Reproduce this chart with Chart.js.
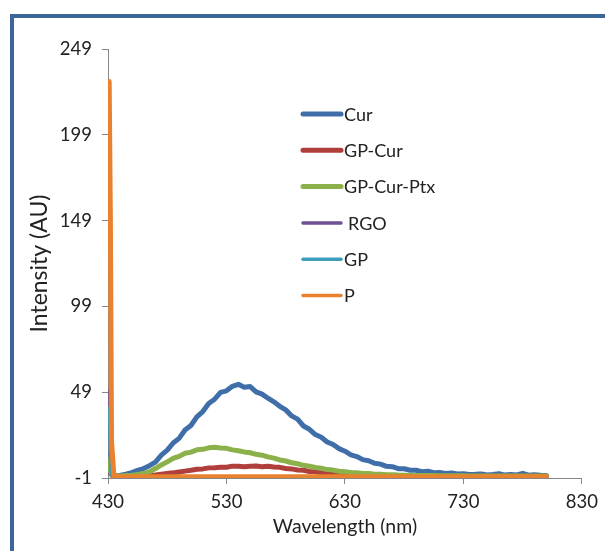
<!DOCTYPE html>
<html lang="en">
<head>
    <meta charset="UTF-8">
    <title>Intensity vs Wavelength</title>
    <script src="https://cdn.jsdelivr.net/npm/chart.js"></script>
    <style>
        body {
            margin: 0;
            background: #fff;
            font-family: Lato, sans-serif;
        }
        #wrap {
            position: relative;
            width: 605px;
            height: 551px;
            overflow: hidden;
        }
        #frame {
            position: absolute;
            left: 10px;
            top: 14px;
            width: 700px;
            height: 700px;
            border-left: 4px solid #3c6598;
            border-top: 4px solid #3c6598;
        }
        canvas {
            position: absolute;
            left: 0;
            top: 0;
        }
    </style>
</head>
<body>
<div id="wrap">
    <div id="frame"></div>
    <canvas id="myChart" width="605" height="551"></canvas>
</div>

<script>
    // wavelengths (nm) for the three emission curves
    const wl = [431, 432, 434, 436, 440, 445, 450, 455, 460, 465, 470, 475, 480, 485, 490, 495,
        500, 505, 510, 515, 520, 525, 530, 535, 540, 545, 550, 555, 560, 565, 570, 575,
        580, 585, 590, 595, 600, 605, 610, 615, 620, 625, 630, 635, 640, 645, 650, 655,
        660, 665, 670, 675, 680, 685, 690, 695, 700, 705, 710, 715, 720, 725, 730, 735,
        740, 745, 750, 755, 760, 765, 770, 775, 780, 785, 790, 795, 800];

    const cur = [12, 3, 0.3, 0.2, 0.5, 1.2, 2.1, 3.4, 4.5, 6.2, 8.3, 12.3, 15.2, 19.4, 22.1, 27.0,
        29.6, 34.6, 37.7, 42.4, 44.9, 48.9, 49.8, 52.4, 53.6, 51.9, 52.3, 49.2, 47.9, 45.5, 43.4, 40.8,
        38.7, 35.2, 33.3, 29.3, 27.4, 24.3, 22.7, 20.0, 18.5, 16.1, 14.6, 12.5, 11.5, 9.7, 9.1, 7.6,
        7.1, 5.8, 5.6, 4.4, 4.4, 3.5, 3.5, 2.7, 2.9, 2.1, 2.2, 1.6, 1.9, 1.3, 1.5, 1.1,
        1.2, 1.4, 0.8, 1.1, 1.5, 0.7, 1.0, 0.8, 1.7, 0.6, 0.9, 0.6, 0.5];

    const gpCur = [8, 2, 0, -0.2, 0, 0, 0.1, 0.2, 0.3, 0.5, 0.8, 1.2, 1.6, 2.0, 2.5, 3.0,
        3.5, 4.1, 4.3, 4.9, 5.0, 5.3, 5.3, 5.9, 5.8, 5.6, 5.9, 6.0, 5.6, 5.9, 5.4, 5.2,
        4.5, 4.3, 3.7, 3.5, 2.8, 2.6, 2.0, 1.8, 1.3, 1.2, 0.9, 0.7, 0.5, 0.4, 0.3, 0.3,
        0.2, 0.2, 0.2, 0.1, 0.1, 0.1, 0.1, 0.0, 0.0, 0.0, 0.0, 0.0, 0.0, 0.0, 0.0, 0.0,
        0.0, 0.0, 0.0, 0.0, 0.0, 0.0, 0.0, 0.0, 0.0, 0.0, 0.0, 0.0, 0.0];

    const gpCurPtx = [10, 3, 0.3, 0, 0.2, 0.4, 0.6, 1.0, 1.6, 2.6, 4.5, 6.6, 8.4, 10.4, 11.6, 13.4,
        14.1, 15.4, 15.7, 16.6, 16.9, 16.5, 16.3, 15.4, 14.9, 14.2, 13.7, 12.8, 12.3, 11.3, 10.6, 9.5,
        8.9, 7.9, 7.3, 6.4, 5.9, 5.1, 4.7, 3.9, 3.6, 2.9, 2.7, 2.2, 2.1, 1.6, 1.6, 1.2,
        1.2, 0.9, 0.9, 0.7, 0.6, 0.5, 0.5, 0.4, 0.4, 0.4, 0.3, 0.3, 0.3, 0.3, 0.3, 0.2,
        0.2, 0.2, 0.2, 0.2, 0.2, 0.2, 0.2, 0.2, 0.2, 0.2, 0.2, 0.2, 0.2];

    // wavelengths for the flat references
    const wlFlat = [431, 432, 433, 435, 440, 500, 600, 700, 800];
    const rgo = [50, 10, 1, -0.5, -0.5, -0.5, -0.5, -0.5, -0.5];
    const gp = [40, 8, 1, -0.5, -0.5, -0.5, -0.5, -0.5, -0.5];
    const p = [230, 150, 20, 0, -0.3, -0.3, -0.3, -0.3, -0.3];

    const xTicks = [430, 530, 630, 730, 830];
    const yTicks = [-1, 49, 99, 149, 199, 249];

    const names = ['Cur', 'GP-Cur', 'GP-Cur-Ptx', 'RGO', 'GP', 'P'];
    const colors = ['#3f6ea8', '#b03f3b', '#8cb04a', '#6e5094', '#3d9dba', '#e8822f'];
    const widths = [5, 5, 5, 3, 3, 5];
    const seriesX = [wl, wl, wl, wlFlat, wlFlat, wlFlat];
    const seriesY = [cur, gpCur, gpCurPtx, rgo, gp, p];

    const datasets = names.map((name, i) => ({
        label: name,
        data: seriesY[i].map((v, j) => ({ x: seriesX[i][j], y: v })),
        borderColor: colors[i],
        backgroundColor: colors[i],
        borderWidth: widths[i],
        pointRadius: 0,
        tension: 0,
        borderJoinStyle: 'round',
        borderCapStyle: 'round',
        order: names.length - i
    }));

    // legend drawn inside the plot, like the original
    const legendPlugin = {
        id: 'insideLegend',
        afterDraw(chart) {
            const ctx = chart.ctx;
            ctx.save();
            ctx.font = '18px Lato, sans-serif';
            ctx.fillStyle = '#222';
            ctx.textBaseline = 'middle';
            ctx.lineCap = 'round';
            names.forEach((name, i) => {
                const y = 114 + i * 36.3;
                ctx.strokeStyle = colors[i];
                ctx.lineWidth = i < 3 ? 5 : 3.5;
                ctx.beginPath();
                ctx.moveTo(303, y);
                ctx.lineTo(341, y);
                ctx.stroke();
                ctx.fillText(name, i === 3 ? 348 : 344, y + 1);
            });
            ctx.restore();
        }
    };

    const axisGray = '#868686';

    new Chart(document.getElementById('myChart').getContext('2d'), {
        type: 'line',
        data: { datasets: datasets },
        options: {
            responsive: false,
            devicePixelRatio: 1,
            animation: false,
            layout: { padding: { top: 49, right: 20, bottom: 0, left: 0 } },
            plugins: { legend: { display: false }, tooltip: { enabled: false } },
            scales: {
                x: {
                    type: 'linear',
                    min: 430,
                    max: 830,
                    afterFit: s => { s.height = 73; },
                    afterBuildTicks: s => { s.ticks = xTicks.map(v => ({ value: v })); },
                    grid: { drawOnChartArea: false, color: axisGray, tickLength: 6 },
                    border: { color: axisGray },
                    ticks: { color: '#222', padding: 7, font: { family: 'Lato', size: 18.5 }, maxRotation: 0 },
                    title: { display: true, text: 'Wavelength (nm)', color: '#222',
                             font: { family: 'Lato', size: 19.5 }, padding: { top: 0, bottom: 13 } }
                },
                y: {
                    type: 'linear',
                    min: -1,
                    max: 249,
                    afterFit: s => { s.width = 108; },
                    afterBuildTicks: s => { s.ticks = yTicks.map(v => ({ value: v })); },
                    grid: { drawOnChartArea: false, color: axisGray, tickLength: 6 },
                    border: { color: axisGray },
                    ticks: { color: '#222', padding: 10, font: { family: 'Lato', size: 18.5 } },
                    title: { display: true, text: 'Intensity (AU)', color: '#222',
                             font: { family: 'Lato', size: 23 }, padding: { top: 26, bottom: 0 } }
                }
            }
        },
        plugins: [legendPlugin]
    });
</script>
</body>
</html>
